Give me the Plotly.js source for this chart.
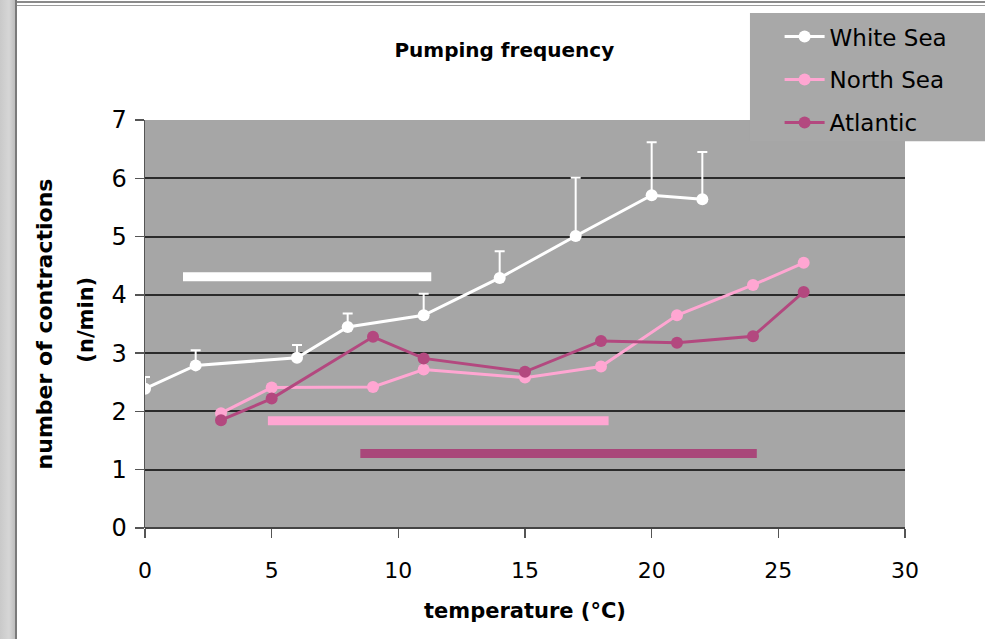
<!DOCTYPE html>
<html>
<head>
<meta charset="utf-8">
<script src="https://cdn.plot.ly/plotly-3.0.1.min.js"></script>
<style>
  html, body { margin: 0; padding: 0; background: #ffffff; }
  #wrap { position: relative; width: 985px; height: 639px; overflow: hidden; }
  #chart { position: absolute; left: 0; top: 0; width: 985px; height: 639px; }
  #leftstrip { position: absolute; left: 0; top: 0; width: 15px; height: 639px;
    background: linear-gradient(90deg, #c9c9c9, #d6d6d6 60%, #bdbdbd);
    border-right: 2px solid #7a7a7a; pointer-events: none; }
  #topline { position: absolute; left: 17px; top: 1px; width: 968px; height: 2px;
    border-top: 2px solid #8a8a8a; border-bottom: 1px solid #9a9a9a; pointer-events: none; }
</style>
</head>
<body>
<div id="wrap">
  <div id="chart"></div>
  <div id="leftstrip"></div>
  <div id="topline"></div>
</div>
<script>
// ---- data ----
const whiteSeaTemp = [0, 2, 6, 8, 11, 14, 17, 20, 22];
const whiteSeaRate = [2.39, 2.79, 2.92, 3.45, 3.65, 4.29, 5.01, 5.71, 5.64];
const whiteSeaErr  = [0.20, 0.26, 0.22, 0.23, 0.37, 0.46, 1.00, 0.91, 0.81];

const northSeaTemp = [3, 5, 9, 11, 15, 18, 21, 24, 26];
const northSeaRate = [1.97, 2.41, 2.42, 2.72, 2.58, 2.77, 3.65, 4.17, 4.55];

const atlanticTemp = [3, 5, 9, 11, 15, 18, 21, 24, 26];
const atlanticRate = [1.85, 2.22, 3.28, 2.91, 2.68, 3.21, 3.18, 3.29, 4.05];

// temperature ranges (horizontal bars) and their heights
const whiteSeaRangeX = [1.5, 11.3];
const whiteSeaRangeY = [4.31, 4.31];
const northSeaRangeX = [4.85, 18.3];
const northSeaRangeY = [1.84, 1.84];
const atlanticRangeX = [8.5, 24.15];
const atlanticRangeY = [1.28, 1.28];

const xTicks = [0, 5, 10, 15, 20, 25, 30];
const yTicks = [0, 1, 2, 3, 4, 5, 6, 7];

const cWhite = '#ffffff', cNorth = '#ffa6d2', cAtl = '#b3487f', cAtlBar = '#a9477a';
const FONT = '"DejaVu Sans", Verdana, sans-serif';

const traces = [
  { x: whiteSeaRangeX, y: whiteSeaRangeY, mode: 'lines', line: { color: cWhite, width: 9 }, showlegend: false, hoverinfo: 'skip' },
  { x: northSeaRangeX, y: northSeaRangeY, mode: 'lines', line: { color: cNorth, width: 9 }, showlegend: false, hoverinfo: 'skip' },
  { x: atlanticRangeX, y: atlanticRangeY, mode: 'lines', line: { color: cAtlBar, width: 9 }, showlegend: false, hoverinfo: 'skip' },
  { name: 'White Sea', legendgroup: 'a', x: whiteSeaTemp, y: whiteSeaRate, mode: 'lines+markers',
    line: { color: cWhite, width: 3 }, marker: { color: cWhite, size: 12 }, cliponaxis: false,
    error_y: { type: 'data', symmetric: false, array: whiteSeaErr, arrayminus: whiteSeaErr.map(() => 0),
      color: cWhite, thickness: 2, width: 5 } },
  { name: 'North Sea', legendgroup: 'b', x: northSeaTemp, y: northSeaRate, mode: 'lines+markers',
    line: { color: cNorth, width: 3 }, marker: { color: cNorth, size: 12 } },
  { name: 'Atlantic', legendgroup: 'c', x: atlanticTemp, y: atlanticRate, mode: 'lines+markers',
    line: { color: cAtl, width: 3 }, marker: { color: cAtl, size: 12 } }
];

const layout = {
  width: 985, height: 639,
  margin: { l: 145, r: 80, t: 120, b: 111, pad: 0 },
  paper_bgcolor: '#ffffff',
  plot_bgcolor: '#a6a6a6',
  font: { family: FONT, color: '#000000', size: 19 },
  title: { text: '<b>Pumping frequency</b>', font: { family: FONT, size: 20, color: '#000' },
    xref: 'container', yref: 'container', x: 0.512, y: 0.922, xanchor: 'center', yanchor: 'middle' },
  xaxis: {
    range: [0, 30], tickvals: xTicks, ticktext: xTicks.map(String),
    ticks: 'outside', ticklen: 9, tickwidth: 1.5, tickcolor: '#555',
    ticklabelstandoff: 14,
    showline: false, showgrid: false, zeroline: false,
    tickfont: { family: FONT, size: 22 },
    title: { text: '<b>temperature (°C)</b>', font: { family: FONT, size: 21 }, standoff: 20 }
  },
  yaxis: {
    range: [0, 7], tickvals: yTicks, ticktext: yTicks.map(String),
    ticks: 'outside', ticklen: 9, tickwidth: 1.5, tickcolor: '#555',
    ticklabelstandoff: 3,
    showline: true, linecolor: '#555', linewidth: 1.5,
    showgrid: true, gridcolor: '#2b2b2b', gridwidth: 2,
    zeroline: true, zerolinecolor: '#444', zerolinewidth: 1.5,
    tickfont: { family: FONT, size: 24 },
    title: { text: '<b>number of contractions</b>', font: { family: FONT, size: 22 }, standoff: 52 }
  },
  annotations: [
    { text: '<b>(n/min)</b>', xref: 'paper', yref: 'paper', x: -0.078, y: 0.51,
      xanchor: 'center', yanchor: 'middle', textangle: -90, showarrow: false,
      font: { family: FONT, size: 21, color: '#000' } }
  ],
  shapes: [
    { type: 'rect', xref: 'paper', yref: 'paper', x0: 0.796, x1: 1.12, y0: 0.948, y1: 1.262,
      fillcolor: '#a8a8a8', line: { width: 0 }, layer: 'below' }
  ],
  legend: {
    x: 0.835, y: 1.257, xanchor: 'left', yanchor: 'top',
    bgcolor: 'rgba(0,0,0,0)', borderwidth: 0,
    font: { family: FONT, size: 23, color: '#000' },
    traceorder: 'grouped', tracegroupgap: 10, itemwidth: 40
  },
  showlegend: true
};

Plotly.newPlot('chart', traces, layout, { displayModeBar: false, staticPlot: true });
</script>
</body>
</html>
